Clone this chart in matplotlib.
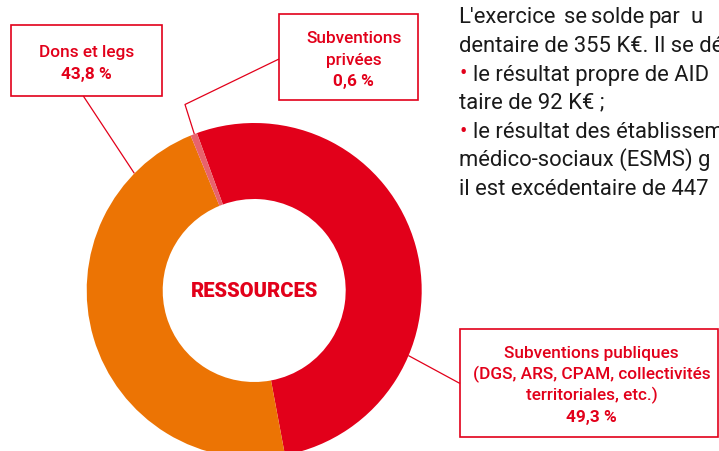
import matplotlib.pyplot as plt
from matplotlib.patches import Rectangle

# donut data (shares as printed on the chart)
segments = ['Subventions publiques', 'Dons et legs', 'Subventions privées']
shares = [49.3, 43.8, 0.6]
colors = ['#E2001A', '#EC7404', '#E8636C']

label_lines = [
    ['Subventions publiques', '(DGS, ARS, CPAM, collectivités', 'territoriales, etc.)'],
    ['Dons et legs'],
    ['Subventions', 'privées'],
]

# paragraph on the right, cut by the image edge as in the source
body_lines = [
    ('', "dentaire de 355 K€. Il se dé"),
    ('•', "le résultat propre de AID"),
    ('', "taire de 92 K€ ;"),
    ('•', "le résultat des établissem"),
    ('', "médico-sociaux (ESMS) g"),
    ('', "il est excédentaire de 447"),
]
first_line_words = ["L'exercice", "se", "solde", "par", "u"]

RED = '#E2001A'
W, H = 719, 452
plt.rcParams['font.family'] = ['Roboto', 'DejaVu Sans']

fig = plt.figure(figsize=(W / 100, H / 100), dpi=100)

# pie axes: center (254, 291.5) px, radius 167.5 px
cx, cy, r = 254.2, 291.5, 167.5
pax = fig.add_axes([(cx - r) / W, (H - cy - r) / H, 2 * r / W, 2 * r / H])
pax.pie(shares, colors=colors, startangle=110, counterclock=False,
        radius=1, wedgeprops=dict(width=1 - 91.5 / 167.5, linewidth=0))
pax.set_xlim(-1, 1)
pax.set_ylim(-1, 1)
pax.set_aspect('equal')
pax.axis('off')
pax.text(0, 0, 'RESSOURCES', ha='center', va='center', color=RED,
         fontsize=14.5, fontweight='heavy')

# overlay axes in pixel coordinates (y down)
ax = fig.add_axes([0, 0, 1, 1], facecolor='none')
ax.set_xlim(0, W)
ax.set_ylim(H, 0)
ax.axis('off')

def pct(v):
    return f"{v:.1f} %".replace('.', ',')

# label boxes: (x0, y0, x1, y1), text center x, first baseline, line step
boxes = [
    ((460, 329.5, 718, 437.5), 591.5, 358.3, 21.2),
    ((11, 26, 162, 97), 86.7, 56.7, 22.6),
    ((279, 14.7, 418, 101), 353.7, 43.3, 21.3),
]
leaders = [
    [(408.3, 356.5), (460, 384.5)],
    [(83.3, 97), (134.3, 174.3)],
    [(279, 60), (185, 105.5), (194.3, 135)],
]

for lines, v, (box, tx, b0, step), pts in zip(label_lines, shares, boxes, leaders):
    x0, y0, x1, y1 = box
    ax.add_patch(Rectangle((x0, y0), x1 - x0, y1 - y0, fill=False,
                           edgecolor=RED, linewidth=1.2, clip_on=False))
    for i, s in enumerate(lines):
        ax.text(tx, b0 + i * step, s, ha='center', va='baseline', color=RED,
                fontsize=12.4, fontweight='medium')
    ax.text(tx, b0 + len(lines) * step, pct(v), ha='center', va='baseline',
            color=RED, fontsize=12.4, fontweight='bold')
    xs, ys = zip(*pts)
    ax.plot(xs, ys, color=RED, linewidth=0.9, solid_capstyle='butt')

# body text; first line is justified, so words are placed one by one
FS = 15.8
word_x = [458, 564, 591, 648, 690]
for w, x in zip(first_line_words, word_x):
    ax.text(x, 22.7, w, ha='left', va='baseline', fontsize=FS, color='#1a1a1a')
baselines = [51.6, 80.5, 108.6, 137.6, 166.3, 194.8]
for (bullet, s), y in zip(body_lines, baselines):
    if bullet:
        ax.text(459.3, y, bullet, ha='left', va='baseline', fontsize=FS, color=RED)
        ax.text(473.3, y, s, ha='left', va='baseline', fontsize=FS, color='#1a1a1a')
    else:
        ax.text(459.3, y, s, ha='left', va='baseline', fontsize=FS, color='#1a1a1a')

fig.savefig('out.png', dpi=100)
